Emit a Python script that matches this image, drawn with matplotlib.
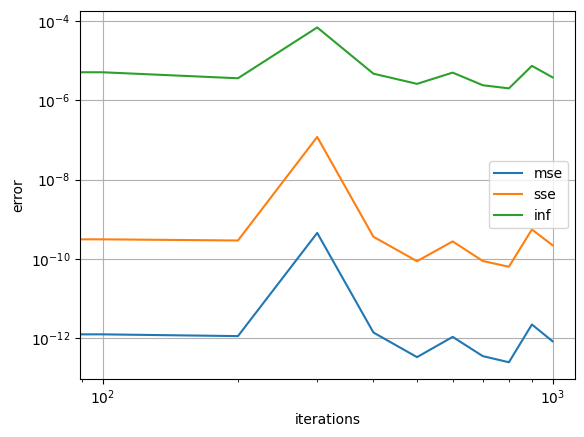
import matplotlib
matplotlib.use("Agg")
import matplotlib.pyplot as plt

# iterations (0 gets clipped on the log axis)
iterations = [0, 100, 200, 300, 400, 500, 600, 700, 800, 900, 1000]

# error values
mse = [1.24e-12, 1.24e-12, 1.12e-12, 4.5e-10, 1.38e-12, 3.3e-13, 1.07e-12,
       3.5e-13, 2.45e-13, 2.2e-12, 8.3e-13]
sse = [3.1e-10, 3.1e-10, 2.9e-10, 1.19e-7, 3.6e-10, 8.7e-11, 2.75e-10,
       8.8e-11, 6.3e-11, 5.5e-10, 2.2e-10]
inf = [5.1e-6, 5.1e-6, 3.6e-6, 6.9e-5, 4.7e-6, 2.6e-6, 5.0e-6,
       2.4e-6, 2.0e-6, 7.4e-6, 3.8e-6]


def main():
    fig = plt.figure(figsize=(5.84, 4.37), dpi=100)
    ax = fig.add_axes([80 / 584, 1 - 379 / 437, 495 / 584, 368.3 / 437])

    ax.plot(iterations, mse, label='mse')
    ax.plot(iterations, sse, label='sse')
    ax.plot(iterations, inf, label='inf')

    ax.set_xscale('log')
    ax.set_yscale('log')

    # naming the axes
    ax.set_xlabel('iterations')
    ax.set_ylabel('error')

    ax.grid()
    ax.legend(loc='center right')

    fig.savefig('out.png', dpi=100)


main()
